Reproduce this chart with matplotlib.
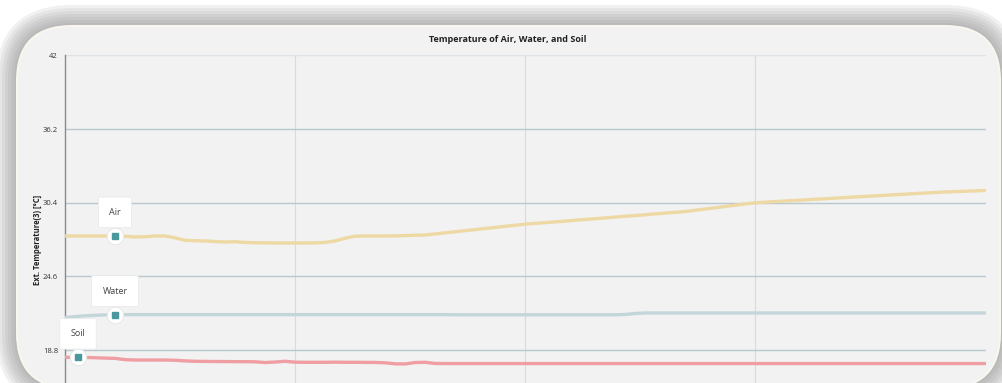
import numpy as np
import matplotlib
matplotlib.use("Agg")
import matplotlib.pyplot as plt
from matplotlib.patches import FancyBboxPatch

plt.rcParams['font.family'] = ['Open Sans', 'DejaVu Sans']

TITLE = "Temperature of Air, Water, and Soil"
Y_LABEL = "Ext. Temperature(3) [°C]"
Y_TICKS = [18.8, 24.6, 30.4, 36.2, 42]
Y_TICK_LABELS = ["18.8", "24.6", "30.4", "36.2", "42"]

air = [
    27.78, 27.78, 27.78, 27.78, 27.78, 27.78, 27.76, 27.70, 27.72, 27.78,
    27.78, 27.64, 27.44, 27.41, 27.39, 27.34, 27.31, 27.33, 27.27, 27.25,
    27.24, 27.23, 27.23, 27.23, 27.23, 27.24, 27.27, 27.39, 27.60, 27.76,
    27.78, 27.78, 27.78, 27.79, 27.81, 27.84, 27.86, 27.94, 28.03, 28.11,
    28.20, 28.28, 28.37, 28.45, 28.54, 28.62, 28.71, 28.77, 28.83, 28.89,
    28.95, 29.02, 29.08, 29.14, 29.20, 29.27, 29.33, 29.39, 29.45, 29.52,
    29.58, 29.64, 29.70, 29.80, 29.90, 30.00, 30.10, 30.20, 30.30, 30.39,
    30.44, 30.49, 30.53, 30.58, 30.62, 30.67, 30.71, 30.76, 30.80, 30.85,
    30.89, 30.94, 30.98, 31.03, 31.07, 31.12, 31.16, 31.20, 31.24, 31.27,
    31.30, 31.33, 31.36,
]
water = [
    21.36, 21.44, 21.50, 21.54, 21.57, 21.59, 21.59, 21.59, 21.59, 21.59,
    21.59, 21.59, 21.59, 21.59, 21.59, 21.59, 21.59, 21.59, 21.59, 21.59,
    21.59, 21.59, 21.59, 21.59, 21.59, 21.59, 21.59, 21.59, 21.59, 21.59,
    21.59, 21.59, 21.59, 21.59, 21.59, 21.59, 21.59, 21.59, 21.59, 21.58,
    21.58, 21.58, 21.58, 21.58, 21.58, 21.58, 21.58, 21.58, 21.58, 21.58,
    21.58, 21.58, 21.58, 21.58, 21.58, 21.58, 21.60, 21.68, 21.72, 21.72,
    21.72, 21.72, 21.72, 21.72, 21.72, 21.72, 21.72, 21.72, 21.72, 21.72,
    21.72, 21.72, 21.72, 21.72, 21.72, 21.72, 21.72, 21.72, 21.72, 21.72,
    21.72, 21.72, 21.72, 21.72, 21.72, 21.72, 21.72, 21.72, 21.72, 21.72,
    21.72, 21.72, 21.72,
]
soil = [
    18.23, 18.23, 18.22, 18.20, 18.17, 18.15, 18.05, 18.02, 18.02, 18.02,
    18.02, 18.00, 17.95, 17.92, 17.91, 17.90, 17.90, 17.89, 17.89, 17.88,
    17.82, 17.86, 17.92, 17.85, 17.84, 17.84, 17.84, 17.85, 17.84, 17.84,
    17.83, 17.83, 17.80, 17.72, 17.71, 17.82, 17.84, 17.75, 17.74, 17.74,
    17.74, 17.74, 17.74, 17.74, 17.74, 17.74, 17.74, 17.74, 17.74, 17.74,
    17.74, 17.74, 17.74, 17.74, 17.74, 17.74, 17.74, 17.74, 17.74, 17.74,
    17.74, 17.74, 17.74, 17.74, 17.74, 17.74, 17.74, 17.74, 17.74, 17.74,
    17.74, 17.74, 17.74, 17.74, 17.74, 17.74, 17.74, 17.74, 17.74, 17.74,
    17.74, 17.74, 17.74, 17.74, 17.74, 17.74, 17.74, 17.74, 17.74, 17.74,
    17.74, 17.74, 17.74,
]
t = np.arange(len(air))

# series name, values, colour, index of labelled point
series = [
    ("Air", air, "#eed9a4", 5),
    ("Water", water, "#c3d7da", 5),
    ("Soil", soil, "#ef9ea3", 1.3),
]

W, H = 1002, 383
fig = plt.figure(figsize=(W / 100, H / 100), dpi=100)
fig.patch.set_facecolor("white")

# card with soft shadow, drawn in pixel units
bg = fig.add_axes([0, 0, 1, 1])
bg.set_xlim(0, W)
bg.set_ylim(H, 0)
bg.axis("off")
cx, cy, cw, ch, rad = 17, 26, 983, 362, 55
for k in range(7, 0, -1):
    e = 3 * k
    bg.add_patch(FancyBboxPatch((cx - e, cy - e), cw + 2 * e, ch + 2 * e,
                                boxstyle="round,pad=0,rounding_size=%d" % (rad + e),
                                fc="#888888", ec="none", alpha=0.11))
bg.add_patch(FancyBboxPatch((cx, cy), cw, ch,
                            boxstyle="round,pad=0,rounding_size=%d" % rad,
                            fc="#f2f2f2", ec="#f9f6ef", lw=1.5))

# plot area; the lower part (down to 13) runs off the bottom of the picture
ax = fig.add_axes([65 / W, 1 - 423.8 / H, 921 / W, (423.8 - 55.3) / H])
ax.patch.set_alpha(0)
ax.set_xlim(0, 92.1)
ax.set_ylim(13, 42)
ax.set_yticks(Y_TICKS)
ax.set_yticklabels(Y_TICK_LABELS)
ax.set_xticks([23, 46, 69])
ax.set_xticklabels([])
ax.tick_params(length=0, labelsize=5.5, labelcolor="#333333", pad=5)
for s in ["top", "right", "bottom"]:
    ax.spines[s].set_visible(False)
ax.spines["left"].set_color("#8a8a8a")
ax.spines["left"].set_linewidth(1)
ax.yaxis.grid(True, color="#b9c8ce", lw=1)
ax.xaxis.grid(True, color="#dadada", lw=0.8)
ax.get_ygridlines()[-1].set_color("#dde3e6")
ax.set_axisbelow(True)

for name, vals, col, idx in series:
    ax.plot(t, vals, color=col, lw=2.4, solid_capstyle="round", zorder=3)
    yv = np.interp(idx, t, vals)
    ax.plot(idx, yv, "o", ms=12, mfc="white", mec="#e4e4e4", mew=0.6, zorder=4)
    ax.plot(idx, yv, "s", ms=5, mfc="#4a979d", mec="#4a979d", zorder=5)
    ax.annotate(name, xy=(idx, yv), xytext=(0, 17), textcoords="offset points",
                ha="center", va="center", fontsize=6.5, color="#444444", zorder=6,
                bbox=dict(boxstyle="round,pad=1.2,rounding_size=0.15",
                          fc="white", ec="#e8e8e8", lw=0.5))

fig.text(508 / W, 1 - 40 / H, TITLE, ha="center", va="center",
         fontsize=6.5, fontweight="bold", color="#222222")
fig.text(37 / W, 1 - 240 / H, Y_LABEL, ha="center", va="center", rotation=90,
         fontsize=5.5, fontweight="bold", color="#222222")

fig.savefig("out.png", dpi=100)
